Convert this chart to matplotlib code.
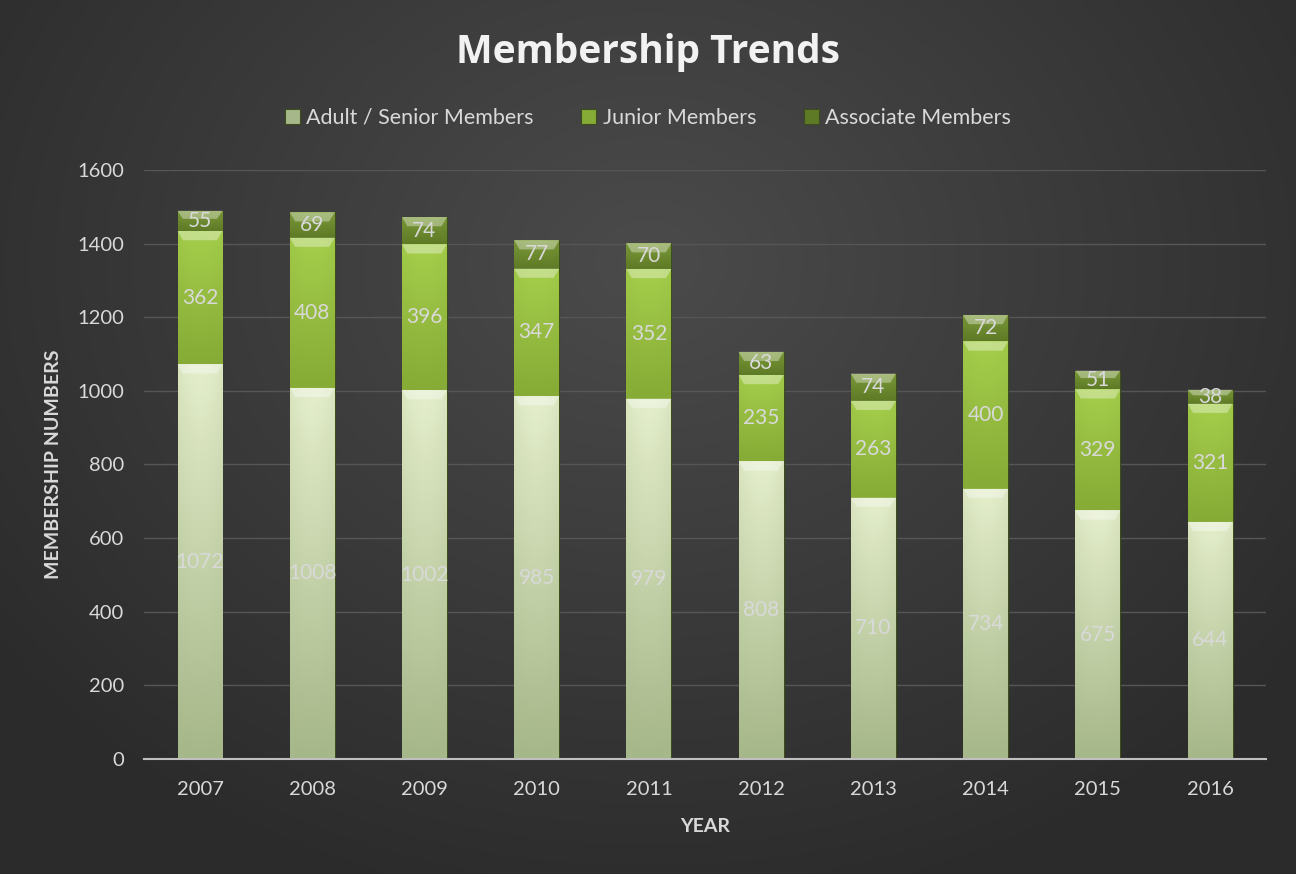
import numpy as np
import matplotlib
matplotlib.use("Agg")
import matplotlib.pyplot as plt
from matplotlib.colors import LinearSegmentedColormap
from matplotlib.patches import Polygon

# 数据
years = ['2007', '2008', '2009', '2010', '2011', '2012', '2013', '2014', '2015', '2016']
adult = [1072, 1008, 1002, 985, 979, 808, 710, 734, 675, 644]
junior = [362, 408, 396, 347, 352, 235, 263, 400, 329, 321]
associate = [55, 69, 74, 77, 70, 63, 74, 72, 51, 38]
series_names = ['Adult / Senior Members', 'Junior Members', 'Associate Members']

# 颜色 (顶部, 底部)
shades = [('#e4eecb', '#a6b789'), ('#a6cf4c', '#86ab36'), ('#7d9c3a', '#5e7a26')]

plt.rcParams['font.family'] = ['Lato', 'DejaVu Sans']
txt = '#d9d9d9'

fig = plt.figure(figsize=(12.96, 8.74), dpi=100)

# 背景径向渐变
bg = fig.add_axes([0, 0, 1, 1])
gx, gy = np.meshgrid(np.linspace(0, 1, 400), np.linspace(0, 1, 300))
r = np.sqrt(((gx - 0.5) / 0.75) ** 2 + ((gy - 0.3) / 0.9) ** 2)
bg_cmap = LinearSegmentedColormap.from_list('bg', ['#4b4b4b', '#2b2b2b'])
bg.imshow(r, cmap=bg_cmap, aspect='auto', extent=[0, 1, 0, 1], origin='upper', vmin=0, vmax=0.85)
bg.axis('off')

ax = fig.add_axes([0.111, 0.1316, 0.866, 0.674])
ax.patch.set_alpha(0)
x = np.arange(len(years))
width = 0.4

bottom = np.zeros(len(years))
handles = []
for vals, name, (ctop, cbot) in zip([adult, junior, associate], series_names, shades):
    bars = ax.bar(x, vals, width, bottom=bottom, color=cbot, edgecolor='#3d4d1c',
                  linewidth=0.8, label=name, zorder=2)
    handles.append(bars)
    cmap = LinearSegmentedColormap.from_list(name, [cbot, ctop])
    for b in bars:
        bx, by, bw, bh = b.get_x(), b.get_y(), b.get_width(), b.get_height()
        grad = np.linspace(1, 0, 50).reshape(-1, 1) * np.ones((1, 20))
        # 横向阴影
        grad = grad * (0.85 + 0.15 * np.sin(np.linspace(0, np.pi, 20)))
        im = ax.imshow(grad, cmap=cmap, extent=[bx, bx + bw, by, by + bh], aspect='auto',
                       zorder=2.5, vmin=0, vmax=1, interpolation='bilinear')
        im.set_clip_path(b)
        # 顶部斜面高光
        d = min(25, bh * 0.4)
        dx = bw * 0.12
        tri = Polygon([[bx, by + bh], [bx + bw, by + bh], [bx + bw - dx, by + bh - d], [bx + dx, by + bh - d]],
                      closed=True, facecolor='white', alpha=0.35, edgecolor='none', zorder=2.6)
        ax.add_patch(tri)
        ax.text(bx + bw / 2, by + bh / 2, str(int(b.get_height())), ha='center', va='center',
                color=txt, fontsize=15, zorder=4)
    bottom = bottom + np.array(vals)

ax.set_xlim(-0.5, len(years) - 0.5)
ax.set_ylim(0, 1600)
ax.set_yticks(np.arange(0, 1601, 200))
ax.set_xticks(x)
ax.set_xticklabels(years)
ax.tick_params(colors=txt, labelsize=14.5, length=0)
ax.tick_params(axis='x', pad=16)
ax.tick_params(axis='y', pad=14)
ax.yaxis.grid(True, color='#565656', linewidth=1, zorder=0)
ax.set_axisbelow(True)
for s in ['top', 'right', 'left']:
    ax.spines[s].set_visible(False)
ax.spines['bottom'].set_color('#bfbfbf')
ax.spines['bottom'].set_linewidth(1.5)
ax.spines['bottom'].set_zorder(5)

ax.set_xlabel('YEAR', color=txt, fontsize=14, fontweight='bold', labelpad=14)
ax.set_ylabel('MEMBERSHIP NUMBERS', color=txt, fontsize=14, fontweight='bold', labelpad=11)

fig.text(0.5, 0.9405, 'Membership Trends', ha='center', va='center', color='#f2f2f2',
         fontsize=28, fontweight='bold', family=['Open Sans', 'DejaVu Sans'])

leg = fig.legend(handles=handles, labels=series_names, loc='center', bbox_to_anchor=(0.5, 0.865),
                 ncol=3, frameon=False, fontsize=15.5, handlelength=0.7, handleheight=0.7,
                 handletextpad=0.3, columnspacing=2.2)
for t in leg.get_texts():
    t.set_color(txt)

fig.savefig('out.png', dpi=100)
